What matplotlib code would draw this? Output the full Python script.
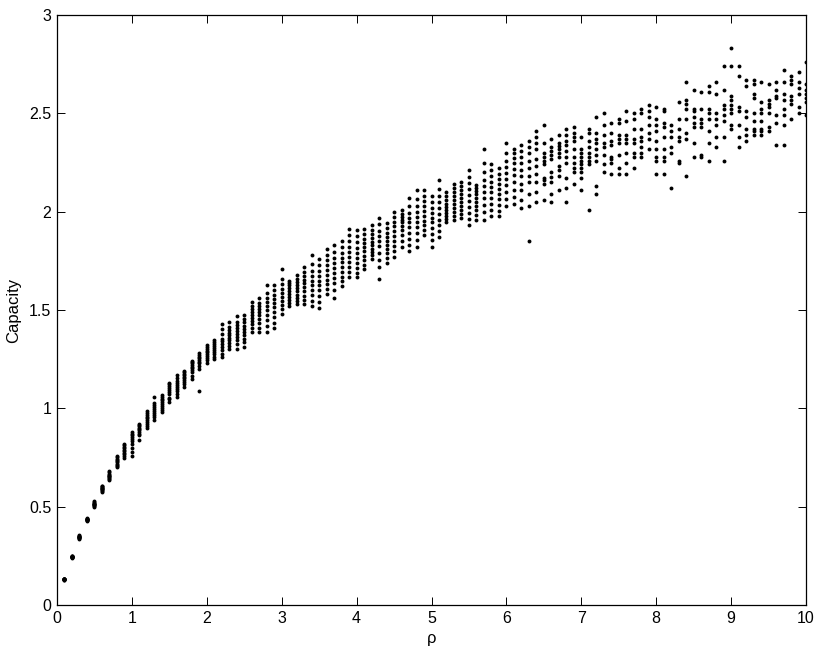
import matplotlib
matplotlib.use("Agg")
import matplotlib.pyplot as plt
from matplotlib.ticker import FormatStrFormatter, FuncFormatter

# rho grid: 0.1, 0.2, ..., 10.0 (one column of realizations per value)
rho = [round(0.1 * k, 1) for k in range(1, 101)]

# Capacity realizations per rho column, grouped by unit interval of rho
cap_0_1 = [
    [0.128, 0.130, 0.131, 0.132, 0.133, 0.129, 0.130, 0.134, 0.131, 0.130],
    [0.240, 0.243, 0.245, 0.246, 0.248, 0.244, 0.242, 0.247, 0.245, 0.250],
    [0.338, 0.342, 0.345, 0.348, 0.350, 0.352, 0.355, 0.344, 0.347, 0.341],
    [0.428, 0.432, 0.435, 0.437, 0.440, 0.434, 0.431, 0.438, 0.436, 0.433],
    [0.500, 0.505, 0.510, 0.514, 0.518, 0.522, 0.527, 0.512, 0.508, 0.516],
    [0.577, 0.582, 0.587, 0.591, 0.595, 0.599, 0.603, 0.607, 0.589, 0.593],
    [0.635, 0.642, 0.648, 0.653, 0.658, 0.663, 0.668, 0.674, 0.680, 0.656],
    [0.700, 0.707, 0.713, 0.719, 0.725, 0.731, 0.737, 0.744, 0.752, 0.760],
    [0.745, 0.756, 0.766, 0.775, 0.783, 0.790, 0.797, 0.805, 0.812, 0.820],
    [0.760, 0.780, 0.800, 0.820, 0.835, 0.845, 0.855, 0.865, 0.872, 0.880],
]
cap_1_2 = [
    [0.840, 0.862, 0.872, 0.880, 0.888, 0.895, 0.902, 0.908, 0.914, 0.920],
    [0.900, 0.912, 0.922, 0.932, 0.942, 0.950, 0.958, 0.966, 0.975, 0.988],
    [0.940, 0.955, 0.965, 0.975, 0.985, 0.995, 1.005, 1.015, 1.025, 1.060],
    [0.980, 0.992, 1.002, 1.012, 1.022, 1.032, 1.040, 1.048, 1.058, 1.070],
    [1.030, 1.045, 1.055, 1.075, 1.085, 1.095, 1.105, 1.115, 1.122, 1.130],
    [1.060, 1.075, 1.090, 1.100, 1.110, 1.120, 1.130, 1.140, 1.155, 1.170],
    [1.110, 1.122, 1.135, 1.145, 1.152, 1.160, 1.168, 1.175, 1.183, 1.190],
    [1.150, 1.165, 1.185, 1.195, 1.205, 1.212, 1.220, 1.228, 1.235, 1.242],
    [1.087, 1.200, 1.215, 1.228, 1.238, 1.246, 1.254, 1.262, 1.270, 1.280],
    [1.230, 1.245, 1.258, 1.268, 1.278, 1.286, 1.294, 1.302, 1.310, 1.320],
]
cap_2_3 = [
    [1.250, 1.262, 1.275, 1.285, 1.295, 1.305, 1.315, 1.325, 1.335, 1.350],
    [1.260, 1.278, 1.295, 1.310, 1.325, 1.340, 1.355, 1.380, 1.405, 1.430],
    [1.300, 1.315, 1.330, 1.345, 1.360, 1.372, 1.385, 1.398, 1.412, 1.440],
    [1.300, 1.325, 1.345, 1.365, 1.380, 1.395, 1.410, 1.425, 1.440, 1.470],
    [1.310, 1.335, 1.355, 1.375, 1.390, 1.405, 1.420, 1.438, 1.455, 1.475],
    [1.390, 1.410, 1.430, 1.445, 1.460, 1.475, 1.490, 1.505, 1.520, 1.540],
    [1.390, 1.410, 1.435, 1.455, 1.475, 1.490, 1.505, 1.520, 1.538, 1.560],
    [1.390, 1.420, 1.450, 1.475, 1.500, 1.520, 1.540, 1.560, 1.585, 1.625],
    [1.410, 1.435, 1.465, 1.490, 1.515, 1.535, 1.555, 1.575, 1.600, 1.625],
    [1.480, 1.505, 1.525, 1.545, 1.565, 1.585, 1.605, 1.630, 1.660, 1.710],
]
cap_3_4 = [
    [1.520, 1.535, 1.550, 1.565, 1.580, 1.595, 1.610, 1.625, 1.638, 1.650],
    [1.530, 1.545, 1.562, 1.578, 1.595, 1.610, 1.625, 1.640, 1.660, 1.680],
    [1.530, 1.550, 1.572, 1.595, 1.615, 1.635, 1.655, 1.675, 1.695, 1.720],
    [1.520, 1.545, 1.575, 1.600, 1.625, 1.650, 1.675, 1.700, 1.735, 1.780],
    [1.510, 1.540, 1.570, 1.600, 1.625, 1.650, 1.675, 1.700, 1.730, 1.760],
    [1.580, 1.605, 1.630, 1.655, 1.680, 1.705, 1.730, 1.755, 1.780, 1.810],
    [1.560, 1.600, 1.635, 1.665, 1.690, 1.715, 1.740, 1.765, 1.795, 1.830],
    [1.620, 1.645, 1.670, 1.695, 1.720, 1.742, 1.765, 1.790, 1.820, 1.850],
    [1.670, 1.695, 1.720, 1.745, 1.770, 1.795, 1.820, 1.850, 1.880, 1.910],
    [1.670, 1.690, 1.715, 1.740, 1.765, 1.790, 1.815, 1.845, 1.875, 1.905],
]
cap_4_5 = [
    [1.710, 1.730, 1.755, 1.775, 1.800, 1.820, 1.840, 1.860, 1.885, 1.910],
    [1.760, 1.778, 1.795, 1.812, 1.830, 1.848, 1.866, 1.884, 1.905, 1.930],
    [1.660, 1.720, 1.755, 1.790, 1.825, 1.850, 1.875, 1.900, 1.935, 1.970],
    [1.740, 1.765, 1.790, 1.810, 1.830, 1.850, 1.870, 1.890, 1.915, 1.940],
    [1.770, 1.800, 1.825, 1.850, 1.875, 1.900, 1.925, 1.950, 1.975, 2.000],
    [1.820, 1.850, 1.880, 1.905, 1.925, 1.945, 1.960, 1.975, 1.990, 2.010],
    [1.800, 1.830, 1.860, 1.890, 1.920, 1.945, 1.970, 1.995, 2.030, 2.070],
    [1.820, 1.855, 1.890, 1.920, 1.950, 1.975, 2.000, 2.030, 2.065, 2.110],
    [1.880, 1.905, 1.930, 1.955, 1.980, 2.005, 2.030, 2.055, 2.080, 2.110],
    [1.820, 1.855, 1.885, 1.915, 1.945, 1.970, 1.995, 2.020, 2.050, 2.080],
]
cap_5_6 = [
    [1.870, 1.900, 1.930, 1.960, 1.990, 2.020, 2.050, 2.080, 2.115, 2.160],
    [1.950, 1.965, 1.980, 1.995, 2.010, 2.025, 2.040, 2.058, 2.078, 2.100],
    [1.960, 1.980, 2.000, 2.020, 2.040, 2.060, 2.080, 2.100, 2.120, 2.140],
    [1.970, 1.990, 2.010, 2.030, 2.050, 2.070, 2.090, 2.110, 2.130, 2.150],
    [1.930, 1.965, 1.995, 2.025, 2.055, 2.085, 2.115, 2.145, 2.175, 2.210],
    [1.960, 1.985, 2.010, 2.030, 2.050, 2.070, 2.090, 2.105, 2.120, 2.135],
    [1.960, 2.000, 2.035, 2.070, 2.100, 2.130, 2.160, 2.200, 2.250, 2.320],
    [1.980, 2.010, 2.040, 2.070, 2.100, 2.125, 2.150, 2.180, 2.210, 2.240],
    [1.980, 2.005, 2.035, 2.065, 2.090, 2.115, 2.140, 2.165, 2.190, 2.220],
    [2.030, 2.065, 2.100, 2.135, 2.165, 2.195, 2.225, 2.260, 2.300, 2.350],
]
cap_6_7 = [
    [2.040, 2.075, 2.110, 2.150, 2.185, 2.215, 2.245, 2.275, 2.300, 2.320],
    [2.020, 2.060, 2.110, 2.140, 2.180, 2.210, 2.250, 2.280, 2.310, 2.340],
    [1.850, 2.030, 2.090, 2.150, 2.180, 2.220, 2.260, 2.300, 2.330, 2.360],
    [2.050, 2.100, 2.150, 2.190, 2.230, 2.270, 2.320, 2.350, 2.380, 2.410],
    [2.060, 2.140, 2.160, 2.170, 2.240, 2.260, 2.280, 2.300, 2.350, 2.440],
    [2.050, 2.090, 2.150, 2.175, 2.200, 2.270, 2.290, 2.310, 2.330, 2.370],
    [2.110, 2.180, 2.210, 2.230, 2.280, 2.300, 2.320, 2.335, 2.350, 2.390],
    [2.050, 2.120, 2.170, 2.250, 2.280, 2.310, 2.340, 2.360, 2.390, 2.420],
    [2.140, 2.200, 2.220, 2.250, 2.280, 2.320, 2.360, 2.380, 2.400, 2.430],
    [2.110, 2.170, 2.200, 2.220, 2.240, 2.260, 2.280, 2.300, 2.320, 2.380],
]
cap_7_8 = [
    [2.010, 2.240, 2.260, 2.280, 2.300, 2.330, 2.360, 2.400, 2.420],
    [2.090, 2.130, 2.260, 2.290, 2.320, 2.350, 2.370, 2.400, 2.480],
    [2.200, 2.240, 2.290, 2.330, 2.350, 2.390, 2.440, 2.500],
    [2.190, 2.250, 2.270, 2.280, 2.340, 2.360, 2.400, 2.450],
    [2.190, 2.220, 2.290, 2.350, 2.370, 2.390, 2.450, 2.470],
    [2.190, 2.250, 2.300, 2.350, 2.370, 2.390, 2.460, 2.510],
    [2.220, 2.280, 2.300, 2.350, 2.370, 2.420, 2.470, 2.500],
    [2.280, 2.300, 2.330, 2.360, 2.380, 2.420, 2.500, 2.520],
    [2.320, 2.370, 2.400, 2.440, 2.480, 2.510, 2.540],
    [2.190, 2.260, 2.280, 2.320, 2.360, 2.410, 2.440, 2.470, 2.530],
]
cap_8_9 = [
    [2.190, 2.260, 2.280, 2.320, 2.380, 2.430, 2.450, 2.510, 2.520],
    [2.120, 2.300, 2.330, 2.380, 2.410, 2.440],
    [2.250, 2.260, 2.360, 2.380, 2.420, 2.470, 2.560],
    [2.180, 2.370, 2.400, 2.470, 2.520, 2.550, 2.570, 2.660],
    [2.280, 2.350, 2.430, 2.450, 2.480, 2.510, 2.520, 2.620],
    [2.280, 2.290, 2.430, 2.450, 2.470, 2.520, 2.610],
    [2.260, 2.350, 2.410, 2.470, 2.500, 2.520, 2.610, 2.640],
    [2.330, 2.380, 2.440, 2.470, 2.500, 2.600, 2.660],
    [2.260, 2.380, 2.460, 2.490, 2.520, 2.540, 2.620, 2.740],
    [2.420, 2.440, 2.500, 2.520, 2.540, 2.570, 2.590, 2.740, 2.830],
]
cap_9_10 = [
    [2.330, 2.380, 2.440, 2.510, 2.530, 2.690, 2.740],
    [2.360, 2.390, 2.420, 2.480, 2.510, 2.640, 2.670],
    [2.390, 2.410, 2.420, 2.460, 2.500, 2.580, 2.600, 2.650, 2.670],
    [2.390, 2.410, 2.420, 2.460, 2.500, 2.520, 2.560, 2.660],
    [2.410, 2.430, 2.500, 2.530, 2.550, 2.570, 2.650],
    [2.340, 2.450, 2.490, 2.580, 2.590, 2.620, 2.660],
    [2.340, 2.440, 2.490, 2.520, 2.570, 2.600, 2.660, 2.720],
    [2.470, 2.550, 2.570, 2.590, 2.650, 2.670, 2.690],
    [2.500, 2.530, 2.600, 2.630, 2.660, 2.710],
    [2.490, 2.560, 2.580, 2.600, 2.620, 2.650, 2.760],
]

x_ticks = [0, 1, 2, 3, 4, 5, 6, 7, 8, 9, 10]
y_ticks = [0, 0.5, 1, 1.5, 2, 2.5, 3]

columns = cap_0_1 + cap_1_2 + cap_2_3 + cap_3_4 + cap_4_5 + cap_5_6 + cap_6_7 + cap_7_8 + cap_8_9 + cap_9_10

plt.rcParams['font.family'] = ['Liberation Sans', 'DejaVu Sans']

fig = plt.figure(figsize=(8.22, 6.55), dpi=100)
ax = fig.add_axes([57 / 822, 1 - 605 / 655, (806 - 57) / 822, (605 - 15) / 655])

xs, ys = [], []
for r, col in zip(rho, columns):
    for v in col:
        xs.append(r)
        ys.append(v)
ax.plot(xs, ys, linestyle='none', marker='o', markersize=2.8, color='black',
        markeredgewidth=0)

ax.set_xlim(0, 10)
ax.set_ylim(0, 3)
ax.set_xticks(x_ticks)
ax.set_yticks(y_ticks)
ax.yaxis.set_major_formatter(FuncFormatter(lambda v, p: f"{v:g}"))
ax.tick_params(direction='in', length=6, width=0.7, top=True, right=True,
               labelsize=11.5, colors='black', pad=4)
for s in ax.spines.values():
    s.set_linewidth(0.9)
ax.set_xlabel('ρ', fontsize=12, labelpad=4)
ax.set_ylabel('Capacity', fontsize=12, labelpad=6)

fig.savefig('out.png', dpi=100)
